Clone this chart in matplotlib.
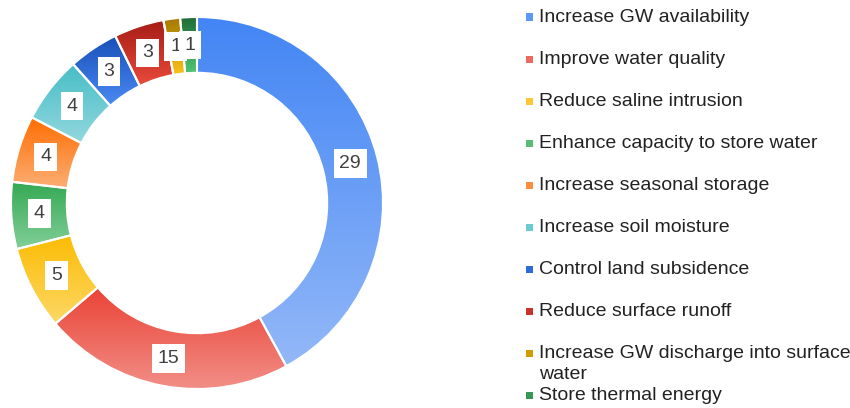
import matplotlib.pyplot as plt
from matplotlib.colors import LinearSegmentedColormap
from matplotlib.patches import Rectangle
import numpy as np

plt.rcParams['font.family'] = ['Liberation Sans', 'DejaVu Sans']

labels = [
    'Increase GW availability',
    'Improve water quality',
    'Reduce saline intrusion',
    'Enhance capacity to store water',
    'Increase seasonal storage',
    'Increase soil moisture',
    'Control land subsidence',
    'Reduce surface runoff',
    'Increase GW discharge into surface\nwater',
    'Store thermal energy',
]
values = [29, 15, 5, 4, 4, 4, 3, 3, 1, 1]

# gradient colours, top -> bottom of each slice
top_colors = ['#4285f4', '#ea4335', '#fbbc04', '#34a853', '#ff6d01',
              '#46bdc6', '#1a4fb8', '#a51d16', '#a37800', '#1e6b36']
bottom_colors = ['#93b8f8', '#f28e87', '#fdd866', '#82cf98', '#fcae74',
                 '#93d8de', '#4a8af4', '#ea4a3c', '#fbc21c', '#4fc472']
legend_colors = ['#5f97f6', '#ee6a60', '#fcc935', '#5bbb76', '#fd8d3a',
                 '#6ccad2', '#2f6ad6', '#c8342a', '#cf9c02', '#379755']

W, H = 850, 408
fig = plt.figure(figsize=(W / 100, H / 100), dpi=100)

cx, cy, R = 197, 203, 186
ax = fig.add_axes([(cx - R) / W, (H - cy - R) / H, 2 * R / W, 2 * R / H])

wedges, _ = ax.pie(values, startangle=90, counterclock=False, radius=1,
                   wedgeprops=dict(width=0.3, edgecolor='white',
                                   linewidth=1.5, facecolor='none'))

grad = np.linspace(0, 1, 256).reshape(-1, 1)
for w, c0, c1 in zip(wedges, top_colors, bottom_colors):
    ext = w.get_path().get_extents()
    cmap = LinearSegmentedColormap.from_list('g', [c0, c1])
    im = ax.imshow(grad, cmap=cmap, extent=[ext.x0, ext.x1, ext.y0, ext.y1],
                   origin='upper', aspect='auto', zorder=1,
                   interpolation='bilinear')
    im.set_clip_path(w)
    w.set_zorder(2)

for w, v in zip(wedges, values):
    ang = np.deg2rad((w.theta1 + w.theta2) / 2)
    ax.text(0.85 * np.cos(ang), 0.85 * np.sin(ang), str(v),
            ha='center', va='center', fontsize=14, color='#404040', zorder=4,
            bbox=dict(boxstyle='square,pad=0.3', fc='white', ec='none'))

ax.set_xlim(-1, 1)
ax.set_ylim(-1, 1)
ax.set_aspect('equal')
ax.axis('off')

# legend drawn by hand so the wrapped entry keeps the row spacing
row0, step, line_h = 17, 42.1, 21
for i, (lab, col) in enumerate(zip(labels, legend_colors)):
    y = row0 + step * i
    fig.patches.append(Rectangle((526 / W, 1 - (y + 3.5) / H), 7 / W, 7 / H,
                                 transform=fig.transFigure, fc=col, ec='none'))
    for j, line in enumerate(lab.split('\n')):
        fig.text(539 / W, 1 - (y + j * line_h) / H, line, ha='left',
                 va='center', fontsize=14, color='#222222')

fig.savefig('out.png', dpi=100)
